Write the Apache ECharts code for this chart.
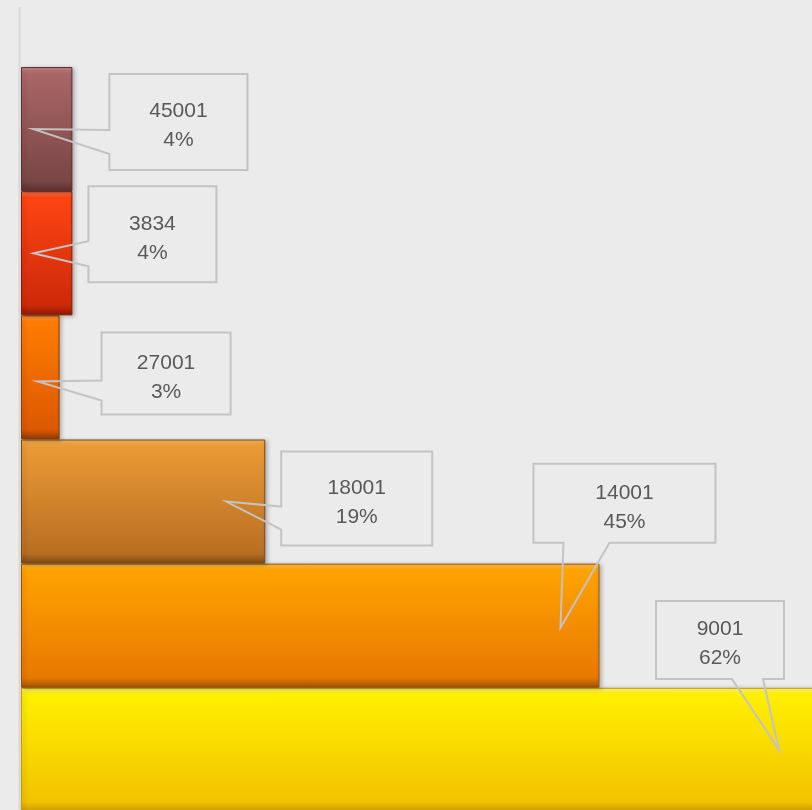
<!DOCTYPE html>
<html>
<head>
    <meta charset="utf-8">
    <title>Bars</title>
    <script src="https://cdn.jsdelivr.net/npm/echarts@6/dist/echarts.min.js"></script>
    <style>
        html, body { margin: 0; padding: 0; background: #ebebeb; overflow: hidden; }
        #main { width: 812px; height: 810px; }
    </style>
</head>
<body>
    <div id="main"></div>
    <script>
        // bottom to top
        var categories = ['9001', '14001', '18001', '27001', '3834', '45001'];
        var percents = [62, 45, 19, 3, 4, 4];

        // [highlight, top, bottom] colours of each bar
        var barColors = [
            ['#fffa80', '#fff000', '#f2c200'],
            ['#ffc24a', '#ffa300', '#e87800'],
            ['#f6b860', '#ec9a34', '#b86e22'],
            ['#ffa24a', '#ff7c00', '#dc5800'],
            ['#ff7a50', '#ff4412', '#cc2a0a'],
            ['#c88a8a', '#aa6666', '#7a4646']
        ];
        var edgeColors = ['#c89a00', '#9a5200', '#7a4a16', '#8a3a00', '#8a1a04', '#5a3030'];

        // callout box relative to bar end: box offset, size, tip offset, wedge side and span
        var callouts = [
            { bx: -162, by: -149, w: 128, h: 78, tx: -39, ty: 0, side: 'bottom', a: 76, b: 107 },
            { bx: -66, by: -162, w: 182, h: 79, tx: -39, ty: 2, side: 'bottom', a: 30, b: 76 },
            { bx: 16, by: -50, w: 151, h: 94, tx: -39, ty: 0, side: 'left', a: 55, b: 78 },
            { bx: 42, by: -45, w: 129, h: 82, tx: -22, ty: 4, side: 'left', a: 48, b: 68 },
            { bx: 16, by: -67, w: 128, h: 96, tx: -39, ty: 0, side: 'left', a: 55, b: 80 },
            { bx: 37, by: -55, w: 138, h: 96, tx: -39, ty: 0, side: 'left', a: 56, b: 80 }
        ];

        var chart = echarts.init(document.getElementById('main'));

        var barData = percents.map(function (v, i) {
            return {
                value: v,
                itemStyle: {
                    color: new echarts.graphic.LinearGradient(0, 0, 0, 1, [
                        { offset: 0, color: barColors[i][0] },
                        { offset: 0.05, color: barColors[i][1] },
                        { offset: 0.92, color: barColors[i][2] },
                        { offset: 1, color: edgeColors[i] }
                    ]),
                    borderColor: edgeColors[i],
                    borderWidth: 1
                }
            };
        });

        var calloutData = percents.map(function (v, i) {
            return [v, i, categories[i]];
        });

        function renderCallout(params, api) {
            var end = api.coord([api.value(0), api.value(1)]);
            var c = callouts[params.dataIndex];
            var x0 = end[0] + c.bx, y0 = end[1] + c.by;
            var x1 = x0 + c.w, y1 = y0 + c.h;
            var tip = [end[0] + c.tx, end[1] + c.ty];
            var pts;
            if (c.side === 'left') {
                pts = [[x0, y0], [x1, y0], [x1, y1], [x0, y1], [x0, y0 + c.b], tip, [x0, y0 + c.a]];
            } else {
                pts = [[x0, y0], [x1, y0], [x1, y1], [x0 + c.b, y1], tip, [x0 + c.a, y1], [x0, y1]];
            }
            var label = categories[params.dataIndex] + '\n' + percents[params.dataIndex] + '%';
            return {
                type: 'group',
                children: [{
                    type: 'polygon',
                    shape: { points: pts },
                    style: { fill: 'none', stroke: '#c3c3c3', lineWidth: 2 }
                }, {
                    type: 'text',
                    x: (x0 + x1) / 2,
                    y: (y0 + y1) / 2 + 4,
                    style: {
                        text: label,
                        fill: '#595959',
                        font: '21px "Liberation Sans", Arial, sans-serif',
                        lineHeight: 29,
                        align: 'center',
                        verticalAlign: 'middle'
                    }
                }]
            };
        }

        chart.setOption({
            backgroundColor: '#ebebeb',
            animation: false,
            grid: {
                left: 21, top: 67, width: 797, height: 745,
                containLabel: false,
                outerBoundsMode: 'none'
            },
            xAxis: {
                type: 'value',
                min: 0,
                max: 62,
                show: false
            },
            yAxis: {
                type: 'category',
                data: categories,
                axisLine: { show: false },
                axisTick: { show: false },
                axisLabel: { show: false },
                splitLine: { show: false }
            },
            graphic: [{
                type: 'line',
                shape: { x1: 19.5, y1: 7, x2: 19.5, y2: 810 },
                style: { stroke: '#d9d9d9', lineWidth: 2 },
                z: 1
            }],
            series: [{
                type: 'bar',
                data: barData,
                barCategoryGap: '0%',
                itemStyle: {
                    shadowBlur: 4,
                    shadowOffsetX: 2,
                    shadowOffsetY: 1,
                    shadowColor: 'rgba(0,0,0,0.25)'
                },
                z: 2
            }, {
                type: 'custom',
                data: calloutData,
                encode: { x: 0, y: 1 },
                renderItem: renderCallout,
                clip: false,
                z: 5
            }]
        });
    </script>
</body>
</html>
